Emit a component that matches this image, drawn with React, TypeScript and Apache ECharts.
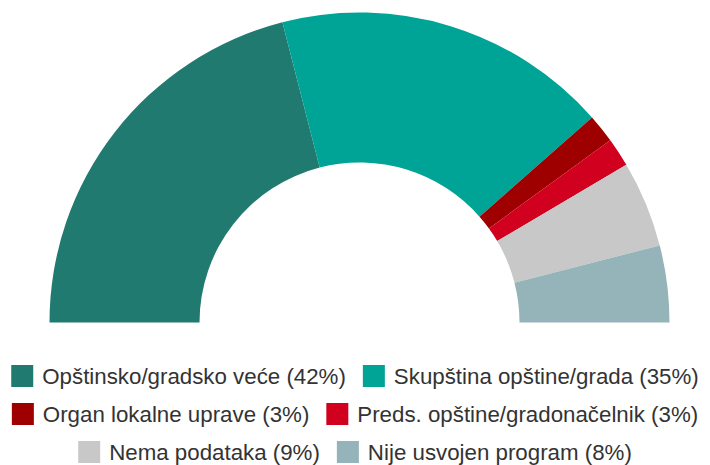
import React, { useEffect, useRef } from "react";
import * as echarts from "echarts";

const categories = [
  "Opštinsko/gradsko veće",
  "Skupština opštine/grada",
  "Organ lokalne uprave",
  "Preds. opštine/gradonačelnik",
  "Nema podataka",
  "Nije usvojen program",
];
const values = [42, 35, 3, 3, 9, 8];
const colors = ["#217a6f", "#00a497", "#9e0000", "#d0001e", "#c8c8c8", "#94b4b9"];
const legendRows = [
  [0, 1],
  [2, 3],
  [4, 5],
];
const legendTops = [365, 403, 441];

export default function App() {
  const ref = useRef<HTMLDivElement>(null);
  useEffect(() => {
    if (!ref.current) return;
    document.body.style.margin = "0";
    const chart = echarts.init(ref.current, null, { renderer: "svg" });
    const names = categories.map((c, i) => `${c} (${values[i]}%)`);
    chart.setOption({
      animation: false,
      color: colors,
      textStyle: { fontFamily: "Liberation Sans, Arial, sans-serif" },
      legend: legendRows.map((row, r) => ({
        data: row.map((i) => names[i]),
        left: "center",
        top: legendTops[r],
        orient: "horizontal",
        icon: "rect",
        itemWidth: 22,
        itemHeight: 22,
        itemGap: 17,
        padding: 0,
        textStyle: {
          fontSize: 22.3,
          color: "#333333",
          fontFamily: "Liberation Sans, Arial, sans-serif",
          padding: [0, 0, 0, 4],
        },
        selectedMode: false,
      })),
      series: [
        {
          type: "pie",
          center: [359.5, 322.5],
          radius: [160, 310],
          startAngle: 180,
          endAngle: 360,
          clockwise: true,
          label: { show: false },
          labelLine: { show: false },
          emphasis: { disabled: true },
          itemStyle: { borderWidth: 0 },
          data: names.map((n, i) => ({ name: n, value: values[i] })),
        },
      ],
    });
    return () => chart.dispose();
  }, []);
  return <div ref={ref} style={{ width: 710, height: 465 }} />;
}
